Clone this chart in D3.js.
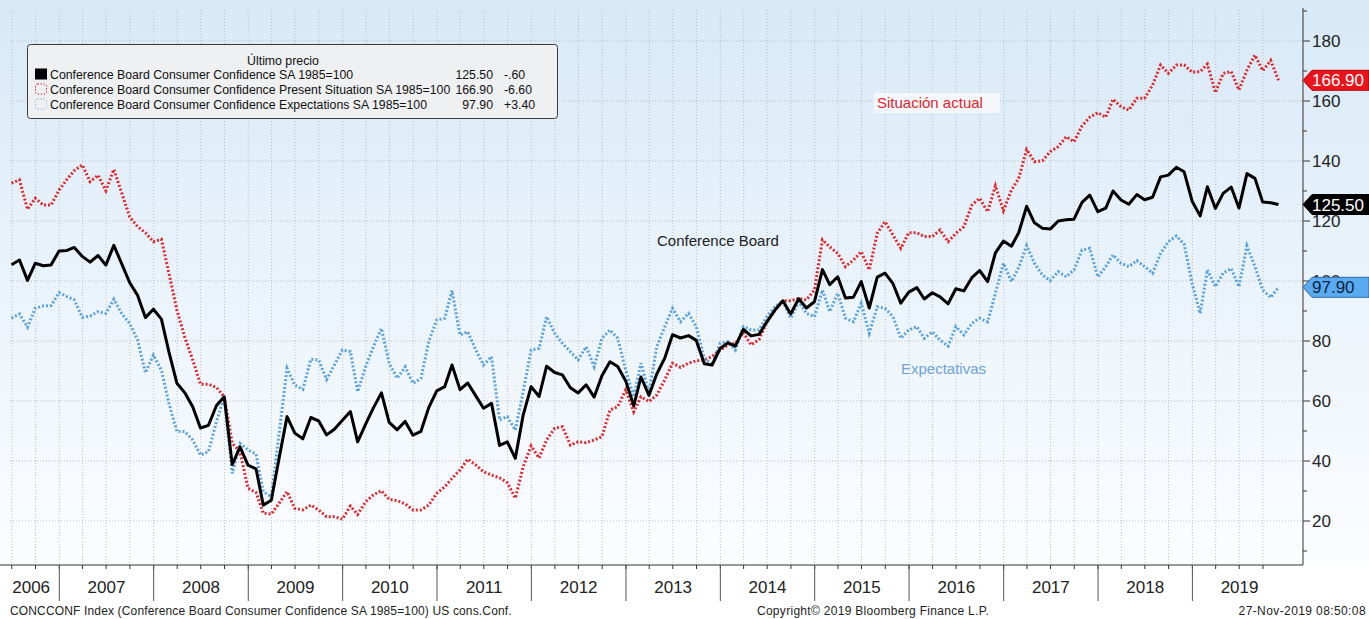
<!DOCTYPE html>
<html lang="es">
<head>
<meta charset="UTF-8">
<title>Conference Board Consumer Confidence</title>
<script src="https://cdnjs.cloudflare.com/ajax/libs/d3/7.8.5/d3.min.js"></script>
<style>
    body { margin: 0; background: #fff; }
    svg text { font-family: "Liberation Sans", Arial, sans-serif; }
</style>
</head>
<body>
<svg id="chart" width="1369" height="619"></svg>
<script>
// primer mes de la serie: junio 2006 (datos mensuales, fin de mes)
var firstYear = 2006, firstMonth = 5

// Conference Board Consumer Confidence SA 1985=100
var cci = [
    105.4, 107.0, 100.2, 105.9, 105.1, 105.3, 110.0,
    110.2, 111.2, 108.2, 106.3, 108.5, 105.3, 111.9, 105.6, 99.5, 95.2, 87.8, 90.6,
    87.3, 76.4, 65.9, 62.8, 58.1, 51.0, 51.9, 58.5, 61.4, 38.8, 44.7, 38.6,
    37.4, 25.3, 26.9, 40.8, 54.8, 49.3, 47.4, 54.5, 53.4, 48.7, 50.6, 53.6,
    56.5, 46.4, 52.3, 57.7, 62.7, 52.9, 50.4, 53.2, 48.6, 49.9, 57.8, 63.4,
    64.8, 72.0, 63.8, 66.0, 61.7, 57.6, 59.2, 45.2, 46.4, 40.9, 55.2, 64.8,
    61.5, 71.6, 69.5, 68.7, 64.4, 62.7, 65.4, 61.3, 68.4, 73.1, 71.5, 66.7,
    58.4, 68.0, 61.9, 69.0, 74.3, 82.1, 81.0, 81.8, 80.2, 72.4, 72.0, 77.5,
    79.4, 78.3, 83.9, 81.7, 82.2, 86.4, 90.3, 93.4, 89.0, 94.1, 91.0, 93.1,
    103.8, 98.8, 101.4, 94.3, 94.6, 99.8, 91.0, 101.3, 102.6, 99.1, 92.6, 96.3,
    97.8, 94.0, 96.1, 94.7, 92.4, 97.4, 96.7, 101.1, 103.5, 99.8, 109.4, 113.3,
    111.6, 116.1, 124.9, 119.4, 117.6, 117.3, 120.0, 120.4, 120.6, 126.2, 128.6, 123.1,
    124.3, 130.0, 127.0, 125.6, 128.8, 127.1, 127.9, 134.7, 135.3, 137.9, 136.4, 126.6,
    121.7, 131.4, 124.2, 129.2, 131.3, 124.3, 135.8, 134.2, 126.3, 126.1, 125.5
]

// Present Situation SA 1985=100
var presente = [
    132.6, 133.7, 123.9, 127.6, 125.3, 125.3, 130.3,
    133.9, 136.8, 138.7, 133.1, 135.3, 130.1, 137.2, 129.2, 121.4, 118.1, 116.1, 113.1,
    113.9, 102.6, 90.3, 81.4, 73.7, 65.6, 65.6, 64.5, 61.4, 45.9, 43.1, 30.9,
    29.5, 22.6, 22.3, 25.9, 29.8, 24.2, 23.7, 25.3, 23.7, 21.4, 21.4, 20.6,
    25.0, 22.2, 26.4, 28.7, 30.1, 27.2, 26.8, 25.7, 23.7, 23.7, 25.3, 29.2,
    31.4, 34.2, 37.0, 40.6, 38.7, 36.4, 35.3, 34.4, 32.8, 27.6, 38.0, 45.0,
    41.0, 47.0, 50.9, 51.4, 45.3, 46.4, 46.1, 47.0, 48.1, 57.0, 58.1, 63.7,
    56.4, 61.4, 59.8, 62.0, 67.0, 72.6, 71.2, 72.6, 73.4, 73.7, 74.8, 77.0,
    78.7, 79.2, 82.8, 78.7, 80.5, 86.4, 90.2, 93.4, 93.4, 94.2, 93.7, 97.0,
    113.7, 111.4, 109.2, 104.8, 107.0, 109.8, 103.7, 115.9, 119.8, 115.3, 110.9, 116.1,
    116.1, 114.8, 114.8, 117.0, 113.1, 115.9, 118.1, 125.3, 127.6, 123.1, 131.7, 123.4,
    130.3, 134.2, 143.8, 139.8, 140.1, 143.1, 144.8, 148.1, 146.4, 151.7, 154.6, 156.1,
    154.6, 160.6, 158.1, 157.0, 160.9, 160.9, 165.3, 172.0, 169.2, 172.0, 172.0, 169.6,
    169.8, 172.3, 162.8, 169.2, 169.8, 163.7, 170.3, 175.3, 170.1, 173.5, 166.9
]

// Expectations SA 1985=100
var expectativas = [
    87.6, 89.0, 84.6, 90.9, 91.7, 91.8, 96.1,
    94.8, 93.7, 87.9, 88.3, 89.8, 89.2, 93.9, 89.0, 85.9, 80.3, 69.4, 75.3,
    70.3, 59.2, 49.8, 49.8, 47.0, 42.0, 43.1, 53.1, 61.4, 35.9, 45.9, 43.7,
    42.3, 29.8, 28.1, 49.0, 70.9, 65.3, 63.9, 73.9, 73.7, 67.2, 72.0, 77.0,
    76.5, 63.1, 71.4, 78.1, 84.2, 72.6, 67.6, 71.4, 65.9, 67.6, 79.8, 87.0,
    87.6, 96.8, 82.0, 83.1, 77.0, 72.0, 74.8, 53.7, 54.8, 50.3, 63.0, 77.0,
    77.5, 88.1, 82.6, 79.2, 76.4, 73.7, 78.1, 71.4, 80.9, 83.7, 80.9, 70.3,
    61.4, 72.6, 62.6, 78.1, 84.8, 90.9, 86.4, 89.2, 84.8, 74.2, 72.0, 79.2,
    79.8, 77.0, 84.8, 83.7, 83.7, 88.1, 91.4, 93.4, 87.6, 93.1, 89.2, 88.1,
    97.0, 89.8, 95.9, 87.6, 86.4, 92.6, 82.6, 91.4, 90.9, 88.1, 80.9, 83.7,
    84.8, 80.9, 83.1, 80.3, 78.3, 84.8, 82.0, 85.9, 87.6, 86.4, 95.9, 105.9,
    99.8, 104.5, 111.8, 105.9, 102.0, 100.1, 103.1, 101.4, 103.7, 110.3, 110.9, 101.4,
    104.8, 108.7, 105.9, 104.8, 106.8, 104.8, 102.6, 109.2, 113.1, 115.0, 112.3, 99.2,
    89.2, 103.7, 98.1, 102.6, 104.2, 98.1, 111.7, 104.8, 97.0, 94.5, 97.9
]

var yTicks = [20, 40, 60, 80, 100, 120, 140, 160, 180]
var yMinorTicks = [10, 30, 50, 70, 90, 110, 130, 150, 170, 190]
var yearLabels = [2006, 2007, 2008, 2009, 2010, 2011, 2012, 2013, 2014, 2015, 2016, 2017, 2018, 2019]

var legendNames = [
    'Conference Board Consumer Confidence SA 1985=100',
    'Conference Board Consumer Confidence Present Situation SA 1985=100',
    'Conference Board Consumer Confidence Expectations SA 1985=100'
]
var legendLast = ['125.50', '166.90', '97.90']
var legendChange = ['-.60', '-6.60', '+3.40']

var width = 1369, height = 619
var plotLeft = 10, plotRight = 1303, plotTop = 10, plotBottom = 565

var red = '#dc2a2e', blue = '#5aa3dc'

var svg = d3.select('#chart')

// fondo degradado
var defs = svg.append('defs')
var grad = defs.append('linearGradient').attr('id', 'bg')
    .attr('x1', 0).attr('y1', 0).attr('x2', 0).attr('y2', 1)
grad.append('stop').attr('offset', '0%').attr('stop-color', '#d8e9f7')
grad.append('stop').attr('offset', '100%').attr('stop-color', '#fcfdff')
defs.append('clipPath').attr('id', 'plotClip')
    .append('rect').attr('x', plotLeft).attr('y', plotTop)
    .attr('width', plotRight - plotLeft).attr('height', plotBottom - plotTop)

svg.append('rect').attr('width', width).attr('height', height).attr('fill', '#fff')
svg.append('rect').attr('x', 0).attr('y', 0).attr('width', width).attr('height', plotBottom)
    .attr('fill', 'url(#bg)')

// escalas: puntos mensuales a fin de mes
var x = d3.scaleTime()
    .domain([new Date(2007, 0, 1), new Date(2019, 0, 1)])
    .range([59.3, 1192.4])
var y = d3.scaleLinear().domain([0, 190]).range([581, 11])

function toPoints(values) {
    return values.map(function (v, i) {
        return { date: new Date(firstYear, firstMonth + i + 1, 0), value: v }
    })
}

// rejilla
var quarters = d3.timeMonth.every(3).range(new Date(2006, 6, 1), new Date(2020, 0, 1))
var grid = svg.append('g').attr('class', 'grid')
grid.selectAll('line.v').data(quarters).enter().append('line')
    .attr('x1', function (d) { return x(d) }).attr('x2', function (d) { return x(d) })
    .attr('y1', plotTop).attr('y2', plotBottom)
    .attr('stroke', '#b9bec4').attr('stroke-width', 1).attr('stroke-dasharray', '1,2')
grid.selectAll('line.h').data(yTicks).enter().append('line')
    .attr('x1', plotLeft).attr('x2', plotRight)
    .attr('y1', function (d) { return y(d) }).attr('y2', function (d) { return y(d) })
    .attr('stroke', '#b9bec4').attr('stroke-width', 1).attr('stroke-dasharray', '1,2')

// leyenda
var lg = svg.append('g')
lg.append('rect').attr('x', 27.5).attr('y', 44.5).attr('width', 530).attr('height', 74)
    .attr('rx', 3).attr('fill', '#eef0f2').attr('stroke', '#3a3a3a').attr('stroke-width', 1)
lg.append('text').attr('x', 283).attr('y', 64.5).attr('text-anchor', 'middle')
    .style('font-size', '12.3px').attr('fill', '#111').text('Último precio')
legendNames.forEach(function (name, i) {
    var yy = 78.5 + i * 15
    if (i === 0) {
        lg.append('rect').attr('x', 35).attr('y', yy - 10).attr('width', 12).attr('height', 11).attr('fill', '#000')
    } else {
        lg.append('rect').attr('x', 35.5).attr('y', yy - 9.5).attr('width', 11).attr('height', 10).attr('rx', 2)
            .attr('fill', 'none').attr('stroke', i === 1 ? red : '#8fc0e6')
            .attr('stroke-width', 1).attr('stroke-dasharray', '1.5,1.5')
    }
    lg.append('text').attr('x', 50).attr('y', yy).style('font-size', '12.3px').attr('fill', '#111').text(name)
    lg.append('text').attr('x', 493).attr('y', yy).attr('text-anchor', 'end')
        .style('font-size', '12.3px').attr('fill', '#111').text(legendLast[i])
    lg.append('text').attr('x', 504).attr('y', yy)
        .style('font-size', '12.3px').attr('fill', '#111').text(legendChange[i])
})

// líneas
var line = d3.line()
    .x(function (d) { return x(d.date) })
    .y(function (d) { return y(d.value) })
var plot = svg.append('g').attr('clip-path', 'url(#plotClip)')
plot.append('path').datum(toPoints(presente)).attr('d', line)
    .attr('fill', 'none').attr('stroke', red).attr('stroke-width', 3)
    .attr('stroke-dasharray', '2,2')
plot.append('path').datum(toPoints(expectativas)).attr('d', line)
    .attr('fill', 'none').attr('stroke', blue).attr('stroke-width', 3)
    .attr('stroke-dasharray', '2,2')
plot.append('path').datum(toPoints(cci)).attr('d', line)
    .attr('fill', 'none').attr('stroke', '#000').attr('stroke-width', 3)
    .attr('stroke-linejoin', 'round')

// anotaciones
var situ = svg.append('g')
situ.append('rect').attr('x', 874).attr('y', 93).attr('width', 126).attr('height', 20).attr('fill', '#f4f8fc')
situ.append('text').attr('x', 877).attr('y', 108).style('font-size', '15px').attr('fill', '#e0252b').text('Situación actual')
svg.append('text').attr('x', 657).attr('y', 246).style('font-size', '15px').attr('fill', '#222').text('Conference Board')
svg.append('text').attr('x', 901).attr('y', 374).style('font-size', '15px').attr('fill', '#6fa3d9').text('Expectativas')

// eje derecho
var yAxis = svg.append('g')
yAxis.append('line').attr('x1', plotRight).attr('x2', plotRight).attr('y1', 8).attr('y2', plotBottom)
    .attr('stroke', '#333').attr('stroke-width', 1)
yAxis.selectAll('line.major').data(yTicks).enter().append('line')
    .attr('x1', plotRight).attr('x2', plotRight + 7)
    .attr('y1', function (d) { return y(d) }).attr('y2', function (d) { return y(d) })
    .attr('stroke', '#333')
yAxis.selectAll('line.minor').data(yMinorTicks).enter().append('line')
    .attr('x1', plotRight).attr('x2', plotRight + 4)
    .attr('y1', function (d) { return y(d) }).attr('y2', function (d) { return y(d) })
    .attr('stroke', '#333')
yAxis.selectAll('text').data(yTicks).enter().append('text')
    .attr('x', plotRight + 9).attr('y', function (d) { return y(d) + 6 })
    .style('font-size', '17px').attr('fill', '#222')
    .text(function (d) { return d })

// etiquetas de último valor
var tags = [
    { value: presente[presente.length - 1], fill: '#e8131b', stroke: '#b00', color: '#fff' },
    { value: cci[cci.length - 1], fill: '#000', stroke: '#000', color: '#fff' },
    { value: expectativas[expectativas.length - 1], fill: '#59aaf0', stroke: '#2a6aa8', color: '#0b2440' }
]
tags.forEach(function (t) {
    var yc = y(t.value)
    svg.append('path')
        .attr('d', 'M' + plotRight + ',' + yc + 'L' + (plotRight + 9) + ',' + (yc - 10) + 'L' + width + ',' + (yc - 10) +
            'L' + width + ',' + (yc + 10) + 'L' + (plotRight + 9) + ',' + (yc + 10) + 'Z')
        .attr('fill', t.fill).attr('stroke', t.stroke).attr('stroke-width', 1)
    svg.append('text').attr('x', plotRight + 9).attr('y', yc + 6)
        .style('font-size', '17px').attr('fill', t.color).text(t.value.toFixed(2))
})

// eje inferior
var xAxis = svg.append('g')
xAxis.append('line').attr('x1', 0).attr('x2', plotRight).attr('y1', plotBottom).attr('y2', plotBottom)
    .attr('stroke', '#333')
xAxis.selectAll('line.tick').data(quarters).enter().append('line')
    .attr('x1', function (d) { return x(d) }).attr('x2', function (d) { return x(d) })
    .attr('y1', plotBottom).attr('y2', plotBottom + 4).attr('stroke', '#333')
var yearStarts = yearLabels.slice(1).map(function (yr) { return new Date(yr, 0, 1) })
xAxis.selectAll('line.sep').data(yearStarts).enter().append('line')
    .attr('x1', function (d) { return x(d) }).attr('x2', function (d) { return x(d) })
    .attr('y1', plotBottom).attr('y2', 601).attr('stroke', '#555')
xAxis.selectAll('text').data(yearLabels).enter().append('text')
    .attr('x', function (yr) {
        var a = Math.max(x(new Date(yr, 0, 1)), 3), b = x(new Date(yr + 1, 0, 1))
        return (a + b) / 2
    })
    .attr('y', 593).attr('text-anchor', 'middle')
    .style('font-size', '17px').attr('fill', '#222')
    .text(function (d) { return d })

// pie
svg.append('text').attr('x', 10).attr('y', 615).style('font-size', '12px').attr('fill', '#222')
    .style('letter-spacing', '0.15px')
    .text('CONCCONF Index (Conference Board Consumer Confidence SA 1985=100) US cons.Conf.')
svg.append('text').attr('x', 873).attr('y', 615).attr('text-anchor', 'middle').style('font-size', '12px').attr('fill', '#222')
    .style('letter-spacing', '0.3px')
    .text('Copyright© 2019 Bloomberg Finance L.P.')
svg.append('text').attr('x', 1366).attr('y', 615).attr('text-anchor', 'end').style('font-size', '12px').attr('fill', '#222')
    .style('letter-spacing', '0.4px')
    .text('27-Nov-2019 08:50:08')
</script>
</body>
</html>
